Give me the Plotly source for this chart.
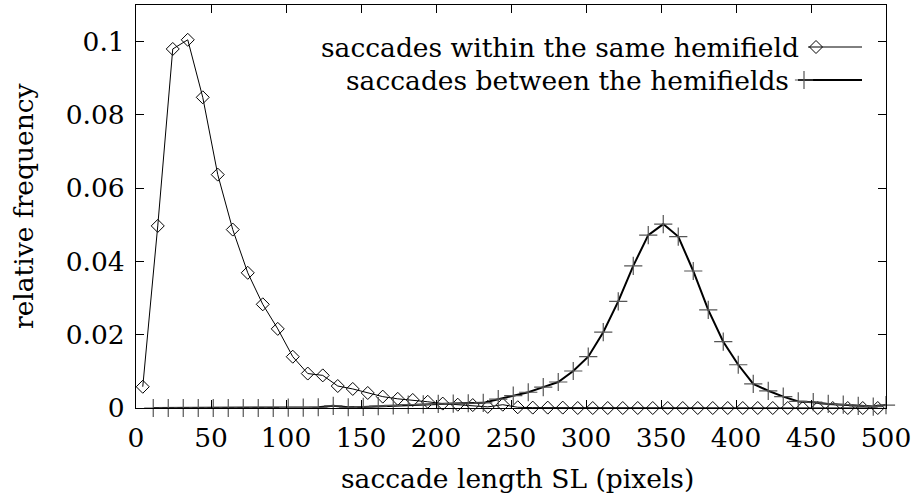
import plotly.graph_objects as go

# ---- data ----
within_x = [4.5 + 10 * k for k in range(50)]
within_y = [0.0058, 0.0497, 0.0980, 0.1005, 0.0848, 0.0637, 0.0487, 0.0369, 0.0283, 0.0216,
            0.0140, 0.0094, 0.0089, 0.0060, 0.0052, 0.0041, 0.0031, 0.0025, 0.0022, 0.0017,
            0.0012, 0.0009, 0.0008, 0.0003, 0.0009, 0.0002, 0.0001, 0.0001, 0.0001, 0.0,
            0.0, 0.0, 0.0, 0.0, 0.0, 0.0, 0.0, 0.0, 0.0, 0.0,
            0.0, 0.0, 0.0, 0.0, 0.0, 0.0, 0.0, 0.0, 0.0, 0.0]

between_x = [11.5 + 10 * k for k in range(49)] + [500]
between_y = [0.0, 0.0, 0.0, 0.0, 0.0, 0.0, 0.0, 0.0, 0.0, 0.0001,
             0.0001, 0.0002, 0.0006, 0.0002, 0.0003, 0.0005, 0.0007, 0.0009, 0.0010, 0.0011,
             0.0012, 0.0013, 0.0014, 0.0024, 0.0034, 0.0043, 0.0057, 0.0071, 0.0101, 0.0140,
             0.0207, 0.0291, 0.0388, 0.0472, 0.0502, 0.0468, 0.0374, 0.0268, 0.0181, 0.0118,
             0.0066, 0.0047, 0.0031, 0.0018, 0.0016, 0.0011, 0.0009, 0.0006, 0.0004, 0.0008]

x_ticks = [0, 50, 100, 150, 200, 250, 300, 350, 400, 450, 500]
y_ticks = [0, 0.02, 0.04, 0.06, 0.08, 0.1]
y_tick_text = ["0", "0.02", "0.04", "0.06", "0.08", "0.1"]

label_within = "saccades within the same hemifield"
label_between = "saccades between the hemifields"
x_title = "saccade length SL (pixels)"
y_title = "relative frequency"

FONT = "DejaVu Serif"
FS = 26.5

fig = go.Figure()
fig.add_trace(go.Scatter(
    x=within_x, y=within_y, mode="lines+markers", cliponaxis=False,
    line=dict(color="black", width=1),
    marker=dict(symbol="diamond-open", size=10, color="black", line=dict(width=1, color="black")),
    showlegend=False))
fig.add_trace(go.Scatter(
    x=between_x, y=between_y, mode="lines+markers", cliponaxis=False,
    line=dict(color="black", width=2),
    marker=dict(symbol="cross-thin-open", size=13, color="#555", line=dict(width=1.2, color="#555")),
    showlegend=False))

# legend key samples drawn on an overlay axis in pixel units (keys to the right of the text)
fig.add_trace(go.Scatter(
    x=[808, 862], y=[47, 47], xaxis="x2", yaxis="y2", mode="lines", cliponaxis=False,
    line=dict(color="black", width=1), showlegend=False, hoverinfo="skip"))
fig.add_trace(go.Scatter(
    x=[816], y=[47], xaxis="x2", yaxis="y2", mode="markers", cliponaxis=False,
    marker=dict(symbol="diamond-open", size=10, color="black", line=dict(width=1, color="black")),
    showlegend=False, hoverinfo="skip"))
fig.add_trace(go.Scatter(
    x=[798, 862], y=[80, 80], xaxis="x2", yaxis="y2", mode="lines", cliponaxis=False,
    line=dict(color="black", width=2), showlegend=False, hoverinfo="skip"))
fig.add_trace(go.Scatter(
    x=[804], y=[80], xaxis="x2", yaxis="y2", mode="markers", cliponaxis=False,
    marker=dict(symbol="cross-thin-open", size=13, color="#555", line=dict(width=1.2, color="#555")),
    showlegend=False, hoverinfo="skip"))

axis_common = dict(showline=True, linecolor="black", linewidth=1, mirror="allticks",
                   ticks="inside", ticklen=8, tickwidth=1, tickcolor="black",
                   showgrid=False, zeroline=False, ticklabeloverflow="allow",
                   tickfont=dict(family=FONT, size=FS, color="black"))

fig.update_layout(
    width=911, height=501,
    margin=dict(l=136, r=25, t=5, b=93, autoexpand=False),
    paper_bgcolor="white", plot_bgcolor="white",
    font=dict(family=FONT, size=FS, color="black"),
    xaxis=dict(range=[0, 500], tickvals=x_ticks, ticktext=[str(v) for v in x_ticks],
               ticklabelstandoff=6, **axis_common),
    yaxis=dict(range=[0, 0.11], tickvals=y_ticks, ticktext=y_tick_text,
               ticklabelstandoff=5, **axis_common),
    xaxis2=dict(range=[136, 886], overlaying="x", anchor="y2", visible=False, fixedrange=True),
    yaxis2=dict(range=[408, 5], overlaying="y", anchor="x2", visible=False, fixedrange=True),
    annotations=[
        dict(text=x_title, xref="paper", yref="paper", x=0.508, y=-0.175, xanchor="center",
             yanchor="middle", showarrow=False, font=dict(family=FONT, size=FS)),
        dict(text=y_title, xref="paper", yref="paper", x=-0.15, y=0.5, xanchor="center",
             yanchor="middle", textangle=-90, showarrow=False, font=dict(family=FONT, size=FS)),
        dict(text=label_within, xref="x2", yref="y2", x=801, y=47, xanchor="right",
             yanchor="middle", showarrow=False, font=dict(family=FONT, size=FS)),
        dict(text=label_between, xref="x2", yref="y2", x=791, y=80, xanchor="right",
             yanchor="middle", showarrow=False, font=dict(family=FONT, size=FS)),
    ],
)

fig.write_html("out.html")
